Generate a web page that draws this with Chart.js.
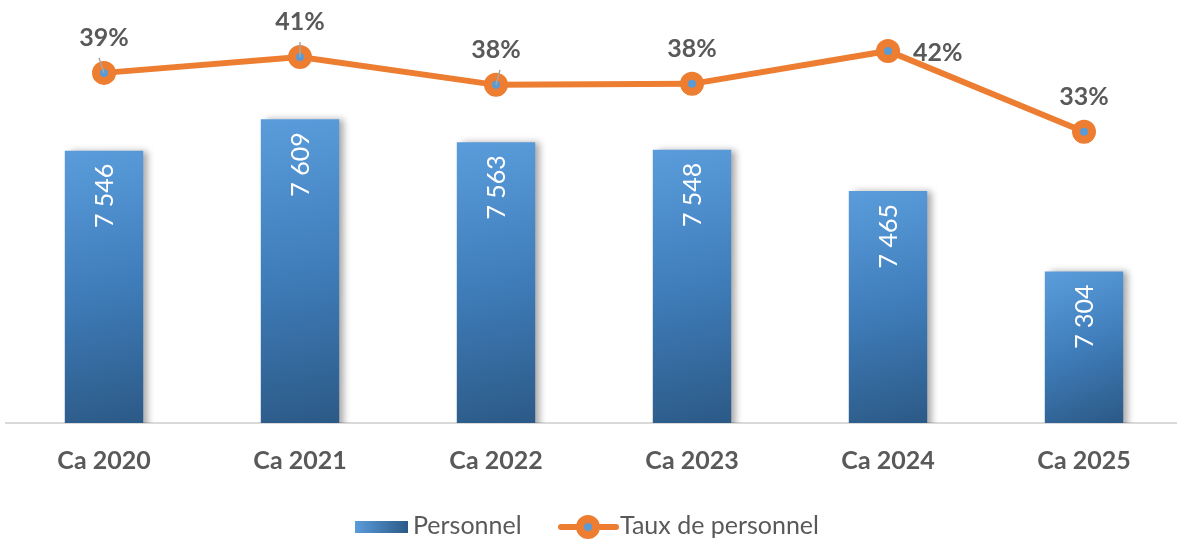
<!DOCTYPE html>
<html>
<head>
<meta charset="utf-8">
<script src="https://cdn.jsdelivr.net/npm/chart.js@4.4.1/dist/chart.umd.min.js"></script>
<style>
  html, body { margin: 0; padding: 0; background: #fff; overflow: hidden; }
  #wrap { position: relative; width: 1182px; height: 540px; }
</style>
</head>
<body>
<div id="wrap"><canvas id="chart"></canvas></div>
<script>
const categories = ['Ca 2020', 'Ca 2021', 'Ca 2022', 'Ca 2023', 'Ca 2024', 'Ca 2025'];
const personnel = [7546, 7609, 7563, 7548, 7465, 7304];
const tauxPersonnel = [0.394, 0.410, 0.382, 0.383, 0.416, 0.335];
const tauxLabels = ['39%', '41%', '38%', '38%', '42%', '33%'];
const seriesNames = ['Personnel', 'Taux de personnel'];

const FONT = 'Lato, "Open Sans", sans-serif';
const GREY = '#595959';
const ORANGE = '#ed7d31';
const BLUE_DOT = '#5b9bd5';

// format 7546 -> "7 546"
function fmtNum(n) {
    return String(n).replace(/\B(?=(\d{3})+(?!\d))/g, ' ');
}

function barGradient(context) {
    const chart = context.chart;
    const area = chart.chartArea;
    if (!area || context.type !== 'data') return '#4a8ac9';
    const x = chart.scales.x.getPixelForValue(context.dataIndex);
    const top = chart.scales.y.getPixelForValue(context.raw);
    const g = chart.ctx.createLinearGradient(x - 30, top, x + 30, area.bottom);
    g.addColorStop(0, '#5a9cdb');
    g.addColorStop(0.5, '#3f7dba');
    g.addColorStop(1, '#2c5a87');
    return g;
}

// shadow on the right side of the bars
const barShadow = {
    id: 'barShadow',
    beforeDatasetDraw(chart, args) {
        if (args.index !== 0) return;
        const ctx = chart.ctx;
        ctx.save();
        ctx.shadowColor = 'rgba(0,0,0,0.35)';
        ctx.shadowBlur = 7;
        ctx.shadowOffsetX = 5;
        ctx.shadowOffsetY = 0;
    },
    afterDatasetDraw(chart, args) {
        if (args.index !== 0) return;
        chart.ctx.restore();
    }
};

// little grey leader lines (dx from point), null = none
const leaderDx = [-5, 0, 4, null, null, null];

// value labels for both series
const valueLabels = {
    id: 'valueLabels',
    afterDatasetsDraw(chart) {
        const ctx = chart.ctx;
        // bars: rotated white text near the top
        const barMeta = chart.getDatasetMeta(0);
        barMeta.data.forEach((bar, i) => {
            ctx.save();
            ctx.translate(bar.x, bar.y + 13);
            ctx.rotate(-Math.PI / 2);
            ctx.fillStyle = '#ffffff';
            ctx.font = '25px ' + FONT;
            ctx.textAlign = 'right';
            ctx.textBaseline = 'middle';
            ctx.fillText(fmtNum(personnel[i]), 0, 1);
            ctx.restore();
        });
        // line: grey percentage labels
        const lineMeta = chart.getDatasetMeta(1);
        lineMeta.data.forEach((pt, i) => {
            ctx.save();
            if (leaderDx[i] !== null) {
                ctx.strokeStyle = '#a6a6a6';
                ctx.lineWidth = 1.5;
                ctx.beginPath();
                ctx.moveTo(pt.x + leaderDx[i], pt.y - 15);
                ctx.lineTo(pt.x, pt.y);
                ctx.stroke();
            }
            ctx.font = 'bold 25px ' + FONT;
            ctx.fillStyle = GREY;
            ctx.textBaseline = 'middle';
            if (i === 4) {
                ctx.textAlign = 'left';
                ctx.fillText(tauxLabels[i], pt.x + 25, pt.y + 2);
            } else {
                ctx.textAlign = 'center';
                ctx.fillText(tauxLabels[i], pt.x, pt.y - 35);
            }
            ctx.restore();
        });
    }
};

// legend drawn at the bottom
const bottomLegend = {
    id: 'bottomLegend',
    afterDraw(chart) {
        const ctx = chart.ctx;
        const y = 527;
        ctx.save();
        const g = ctx.createLinearGradient(355, 0, 408, 0);
        g.addColorStop(0, '#5a9cdb');
        g.addColorStop(1, '#2c5a87');
        ctx.fillStyle = g;
        ctx.fillRect(355, y - 6, 53, 12);
        ctx.font = '25px ' + FONT;
        ctx.fillStyle = GREY;
        ctx.textBaseline = 'middle';
        ctx.textAlign = 'left';
        ctx.fillText(seriesNames[0], 413, y - 1);
        // line symbol
        ctx.strokeStyle = ORANGE;
        ctx.lineWidth = 6;
        ctx.lineCap = 'round';
        ctx.beginPath();
        ctx.moveTo(561, y);
        ctx.lineTo(616, y);
        ctx.stroke();
        ctx.beginPath();
        ctx.arc(588, y, 8, 0, Math.PI * 2);
        ctx.fillStyle = BLUE_DOT;
        ctx.fill();
        ctx.lineWidth = 8;
        ctx.stroke();
        ctx.fillStyle = GREY;
        ctx.fillText(seriesNames[1], 620, y - 1);
        ctx.restore();
    }
};

const ctx = document.getElementById('chart');
const myChart = new Chart(ctx, {
    data: {
        labels: categories,
        datasets: [{
            type: 'bar',
            label: seriesNames[0],
            data: personnel,
            backgroundColor: barGradient,
            barPercentage: 0.4,
            categoryPercentage: 1,
            yAxisID: 'y',
            order: 2
        }, {
            type: 'line',
            label: seriesNames[1],
            data: tauxPersonnel,
            borderColor: ORANGE,
            borderWidth: 6,
            pointRadius: 8,
            pointBorderWidth: 8,
            pointBackgroundColor: BLUE_DOT,
            pointBorderColor: ORANGE,
            tension: 0,
            yAxisID: 'y2',
            order: 1
        }]
    },
    options: {
        responsive: true,
        maintainAspectRatio: false,
        animation: false,
        layout: { autoPadding: false, padding: { left: 6, right: 0, top: 24, bottom: 49 } },
        plugins: {
            legend: { display: false },
            tooltip: { enabled: false }
        },
        scales: {
            x: {
                grid: { display: false },
                border: { display: true, color: '#d9d9d9', width: 2 },
                ticks: {
                    color: GREY,
                    padding: 15,
                    font: { family: FONT, size: 25, weight: 'bold' }
                }
            },
            y: {
                display: false,
                min: 7000,
                max: 7800
            },
            y2: {
                display: false,
                position: 'right',
                min: 0.043,
                max: 0.443
            }
        }
    },
    plugins: [barShadow, valueLabels, bottomLegend]
});
</script>
</body>
</html>
